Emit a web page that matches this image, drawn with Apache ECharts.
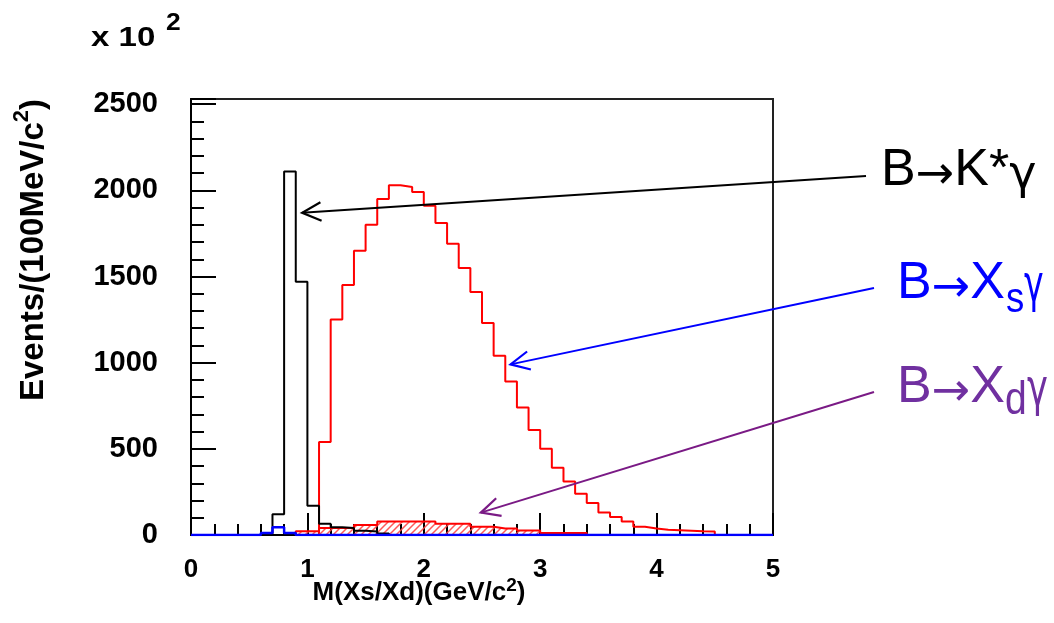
<!DOCTYPE html>
<html><head><meta charset="utf-8">
<script src="https://cdn.jsdelivr.net/npm/echarts/dist/echarts.min.js"></script>
<style>html,body{margin:0;padding:0;background:#fff}#c{width:1054px;height:623px}</style>
</head><body><div id="c"></div>
<script>
// ---- data (bin width 0.1 GeV/c^2) ----
const binWidth = 0.1;
const kstarStart = 0.7;
const kstarValues = [120, 2110, 1470, 170, 65, 45, 40, 25, 20, 8];
const blueStart = 0.6;
const blueValues = [12, 45, 12];
const xsStart = 1.1;
const xsValues = [540, 1250, 1450, 1650, 1800, 1950, 2030, 2020, 1990, 1910,
                  1810, 1690, 1550, 1410, 1230, 1040, 890, 740, 610, 500,
                  390, 310, 240, 185, 130, 105, 78, 48, 38, 30, 28, 25, 22, 20];
const xdStart = 0.9;
const xdValues = [22, 22, 40, 40, 40, 58, 58, 78, 78, 78, 78, 78, 65, 65, 65,
                  48, 48, 38, 38, 26, 26, 12, 12, 12, 12];
const xMin = 0, xMax = 5, xInterval = 1;
const yMin = 0, yMax = 2530, yInterval = 500;
const xTitle = ['M(Xs/Xd)(GeV/c', '2', ')'];
const yTitle = ['Events/(100MeV/c', '2', ')'];
const exponentText = ['x 10', '2'];
const annotations = [
  {b: 'B', arrowGlyph: '→', rest: 'K*', tail: 'γ', color: '#000000', arrow: '#000000', tip: [0.955, 1870]},
  {b: 'B', arrowGlyph: '→', rest: 'X', sub: 's', tail: 'γ', color: '#0000ff', arrow: '#0000ff', tip: [2.745, 990]},
  {b: 'B', arrowGlyph: '→', rest: 'X', sub: 'd', tail: 'γ', color: '#7030a0', arrow: '#7a1a85', tip: [2.49, 130]}
];

const FONT = '"Liberation Sans", Arial, Helvetica, sans-serif';
const AFONT = '"DejaVu Sans", sans-serif';

function histPoints(start, vals) {
  const pts = [[start, 0]];
  vals.forEach((v, i) => pts.push([+(start + i * binWidth).toFixed(3), v]));
  pts.push([+(start + vals.length * binWidth).toFixed(3), 0]);
  return pts;
}
function hatch() {
  const c = document.createElement('canvas');
  c.width = c.height = 7;
  const g = c.getContext('2d');
  g.strokeStyle = 'rgba(255,70,70,0.9)';
  g.lineWidth = 1.5;
  g.beginPath();
  g.moveTo(0, 7); g.lineTo(7, 0);
  g.moveTo(-1, 1); g.lineTo(1, -1);
  g.moveTo(6, 8); g.lineTo(8, 6);
  g.stroke();
  return c;
}

const chart = echarts.init(document.getElementById('c'));
const lineBase = {type: 'line', step: 'end', showSymbol: false, symbol: 'none', animation: false, silent: true};
chart.setOption({
  animation: false,
  grid: {left: 191, top: 99, width: 582, height: 436, show: true, borderColor: '#222', borderWidth: 2, backgroundColor: 'transparent'},
  xAxis: {
    type: 'value', min: xMin, max: xMax, interval: xInterval,
    axisLine: {show: true, lineStyle: {color: '#000', width: 2}},
    axisTick: {show: true, inside: true, length: 22, lineStyle: {color: '#000', width: 2}},
    minorTick: {show: true, splitNumber: 5, length: 11, lineStyle: {color: '#000', width: 2}},
    splitLine: {show: false},
    axisLabel: {color: '#000', fontFamily: FONT, fontWeight: 'bold', fontSize: 26, margin: 22,
      formatter: v => String(v)}
  },
  yAxis: {
    type: 'value', min: yMin, max: yMax, interval: yInterval,
    axisLine: {show: true, lineStyle: {color: '#000', width: 2}},
    axisTick: {show: true, inside: true, length: 25, lineStyle: {color: '#000', width: 2}},
    minorTick: {show: true, splitNumber: 5, length: 13, lineStyle: {color: '#000', width: 2}},
    splitLine: {show: false},
    axisLabel: {color: '#000', fontFamily: FONT, fontWeight: 'bold', fontSize: 29, margin: 33, showMaxLabel: false,
      formatter: v => String(v)}
  },
  series: [
    Object.assign({}, lineBase, {name: 'Xs', z: 2, data: histPoints(xsStart, xsValues),
      lineStyle: {color: '#ff0000', width: 2}}),
    Object.assign({}, lineBase, {name: 'Xd', z: 3, data: histPoints(xdStart, xdValues),
      lineStyle: {color: '#ff0000', width: 2},
      areaStyle: {color: {image: hatch(), repeat: 'repeat'}, opacity: 1}}),
    Object.assign({}, lineBase, {name: 'Kstar', z: 4, data: histPoints(kstarStart, kstarValues),
      lineStyle: {color: '#000000', width: 2}}),
    Object.assign({}, lineBase, {name: 'blue', z: 5,
      data: [[xMin, 0]].concat(histPoints(blueStart, blueValues)).concat([[xMax, 0]]),
      lineStyle: {color: '#0000ff', width: 2.5}})
  ]
});

// ---- annotations ----
const g = [];
function txt(x, y, text, size, color, weight, extra, family) {
  return Object.assign({type: 'text', x: x, y: y, silent: true,
    style: {text: text, fontSize: size, fontFamily: family || FONT, fontWeight: weight || 'normal', fill: color,
      align: 'left', verticalAlign: 'middle'}}, extra || {});
}
g.push(txt(91, 38, exponentText[0], 28, '#000', 'bold', {scaleX: 1.18}));
g.push(txt(166, 23, exponentText[1], 24, '#000', 'bold', {scaleX: 1.1}));

// axis titles with superscripts
g.push({type: 'text', x: 419, y: 593, silent: true,
  style: {text: '{a|' + xTitle[0] + '}{s|' + xTitle[1] + '}{a|' + xTitle[2] + '}',
    align: 'center', verticalAlign: 'middle',
    rich: {a: {fontSize: 26, fontWeight: 'bold', fontFamily: FONT, fill: '#000', lineHeight: 34},
           s: {fontSize: 19, fontWeight: 'bold', fontFamily: FONT, fill: '#000', lineHeight: 19, verticalAlign: 'top'}}}});
g.push({type: 'text', x: 34, y: 250, rotation: Math.PI / 2, silent: true,
  style: {text: '{a|' + yTitle[0] + '}{s|' + yTitle[1] + '}{a|' + yTitle[2] + '}',
    align: 'center', verticalAlign: 'middle',
    rich: {a: {fontSize: 33, fontWeight: 'bold', fontFamily: FONT, fill: '#000', lineHeight: 46},
           s: {fontSize: 22, fontWeight: 'bold', fontFamily: FONT, fill: '#000', lineHeight: 22, verticalAlign: 'top'}}}});

// labels: main part as rich text (B, arrow, rest[, gamma])
function mainLabel(x, y, a, withTail) {
  let t = '{b|' + a.b + '}{ar|' + a.arrowGlyph + '}{b|' + a.rest + '}';
  if (withTail) t += '{g|' + a.tail + '}';
  return {type: 'text', x: x, y: y, silent: true,
    style: {text: t, align: 'left', verticalAlign: 'middle',
      rich: {b: {fontSize: 52, fontFamily: FONT, fill: a.color, lineHeight: 70},
             g: {fontSize: 46, fontFamily: AFONT, fill: a.color, lineHeight: 60, padding: [10, 0, 0, 0]},
             ar: {fontSize: 46, fontFamily: AFONT, fill: a.color, lineHeight: 60, padding: [10, 0, 0, 0]}}}};
}
g.push(mainLabel(881, 171, annotations[0], true));
g.push(mainLabel(897, 284, annotations[1], false));
g.push(txt(1006, 300, annotations[1].sub, 43, annotations[1].color, 'normal', {scaleX: 0.85}));
g.push(txt(1024, 287, annotations[1].tail, 52, annotations[1].color, 'normal', {scaleX: 0.64}, AFONT));
g.push(mainLabel(897, 388, annotations[2], false));
g.push(txt(1005, 401, annotations[2].sub, 46, annotations[2].color, 'normal', {scaleX: 0.85}));
g.push(txt(1027, 391, annotations[2].tail, 52, annotations[2].color, 'normal', {scaleX: 0.68}, AFONT));

// arrows
const tails = [[866, 176], [874, 288], [874, 392]];
annotations.forEach((a, i) => {
  const tip = chart.convertToPixel({gridIndex: 0}, a.tip);
  const t = tails[i];
  const ang = Math.atan2(t[1] - tip[1], t[0] - tip[0]);
  const L = 21, spread = 26 * Math.PI / 180;
  const p1 = [tip[0] + L * Math.cos(ang - spread), tip[1] + L * Math.sin(ang - spread)];
  const p2 = [tip[0] + L * Math.cos(ang + spread), tip[1] + L * Math.sin(ang + spread)];
  g.push({type: 'line', silent: true, z: 10, shape: {x1: t[0], y1: t[1], x2: tip[0], y2: tip[1]},
    style: {stroke: a.arrow, lineWidth: 2}});
  g.push({type: 'polyline', silent: true, z: 10, shape: {points: [p1, tip, p2]},
    style: {stroke: a.arrow, lineWidth: 2.2, fill: null}});
});
chart.setOption({graphic: g});
</script></body></html>
